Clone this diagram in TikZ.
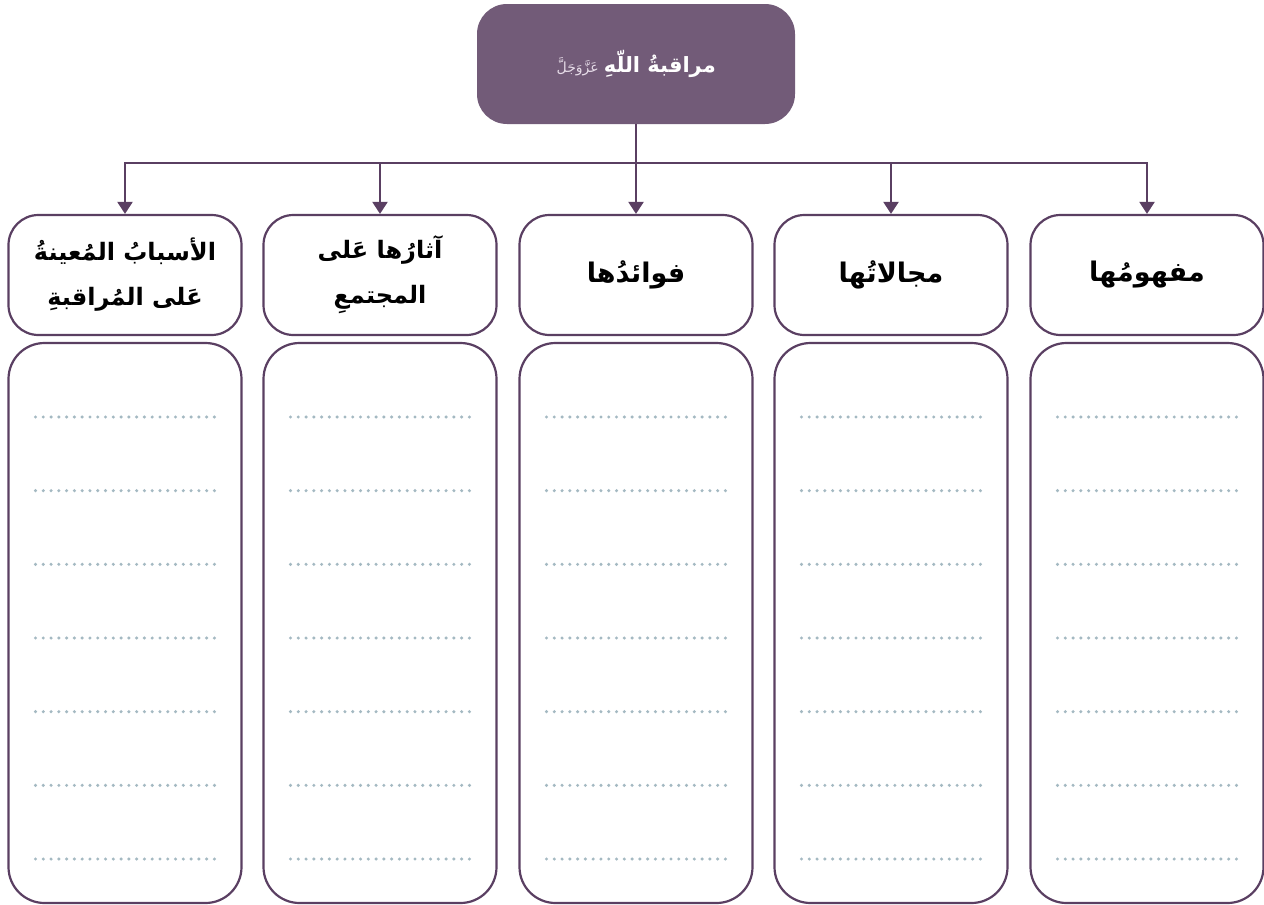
\documentclass[tikz,border=0pt]{standalone}
\usepackage{fontspec}
\TeXXeTstate=1
\newfontfamily\arabicfont[Script=Arabic]{DejaVu Sans}
\usetikzlibrary{arrows.meta}
\definecolor{topfill}{HTML}{725B78}
\definecolor{edgec}{HTML}{5A3F62}
\definecolor{dotc}{HTML}{A4B9C2}
\definecolor{smalltxt}{HTML}{E6DCE8}
\begin{document}
\begin{tikzpicture}[x=1pt,y=-1pt,
  hdr/.style={draw=edgec, line width=2.2pt, rounded corners=30pt, minimum width=233pt, minimum height=120pt, fill=white, font=\arabicfont\bfseries\fontsize{27}{42}\selectfont, align=center, text=black, inner sep=0pt},
  hdrtwo/.style={hdr, font=\arabicfont\bfseries\fontsize{24}{45}\selectfont},
  bodybox/.style={draw=edgec, line width=2.2pt, rounded corners=36pt, minimum width=233pt, minimum height=560pt, fill=white, inner sep=0pt},
  topbox/.style={fill=topfill, rounded corners=30pt, minimum width=318pt, minimum height=120pt, inner sep=0pt},
  toptext/.style={text=white, font=\arabicfont\bfseries\fontsize{21}{26}\selectfont, inner sep=0pt},
  smalltext/.style={text=smalltxt, font=\arabicfont\fontsize{14}{16}\selectfont, inner sep=0pt},
  conn/.style={draw=edgec, line width=2.2pt},
  arr/.style={conn, -{Triangle[width=15pt,length=12pt]}},
  dotline/.style={draw=dotc, line width=3.4pt, line cap=round, dash pattern=on 0pt off 7.78pt}
]
\useasboundingbox (0,0) rectangle (1264,905);
\node[topbox] (top) at (636,64) {};
\node[toptext, anchor=east] (tt) at (716,64) {\beginR مراقبةُ اللّهِ\endR};
\node[smalltext, anchor=east] (ts) at (599,67) {\beginR عَزَّوَجَلَّ\endR};

\node[hdrtwo] (h1) at (125,275) {\beginR الأسبابُ المُعينةُ\endR\\\beginR عَلى المُراقبةِ\endR};
\node[hdrtwo] (h2) at (380,275) {\beginR آثارُها عَلى\endR\\\beginR المجتمعِ\endR};
\node[hdr] (h3) at (636,275) {\beginR فوائدُها\endR};
\node[hdr] (h4) at (891,275) {\beginR مجالاتُها\endR};
\node[hdr] (h5) at (1147,275) {\beginR مفهومُها\endR};

\node[bodybox] (b1) at (125,623) {};
\node[bodybox] (b2) at (380,623) {};
\node[bodybox] (b3) at (636,623) {};
\node[bodybox] (b4) at (891,623) {};
\node[bodybox] (b5) at (1147,623) {};

\coordinate (c1) at (125,163);
\coordinate (c2) at (380,163);
\coordinate (c3) at (636,163);
\coordinate (c4) at (891,163);
\coordinate (c5) at (1147,163);

\draw[conn] (top.south) -- (c3);
\draw[conn, line cap=rect] (c1) -- (c5);
\foreach \i in {1,...,5} \draw[arr] (c\i) -- (h\i.north);

\foreach \x in {125,380,636,891,1147}
  \foreach \k in {0,...,6}
    \draw[dotline] (\x-89.5,417+73.67*\k) -- (\x+90,417+73.67*\k);
\end{tikzpicture}
\end{document}
